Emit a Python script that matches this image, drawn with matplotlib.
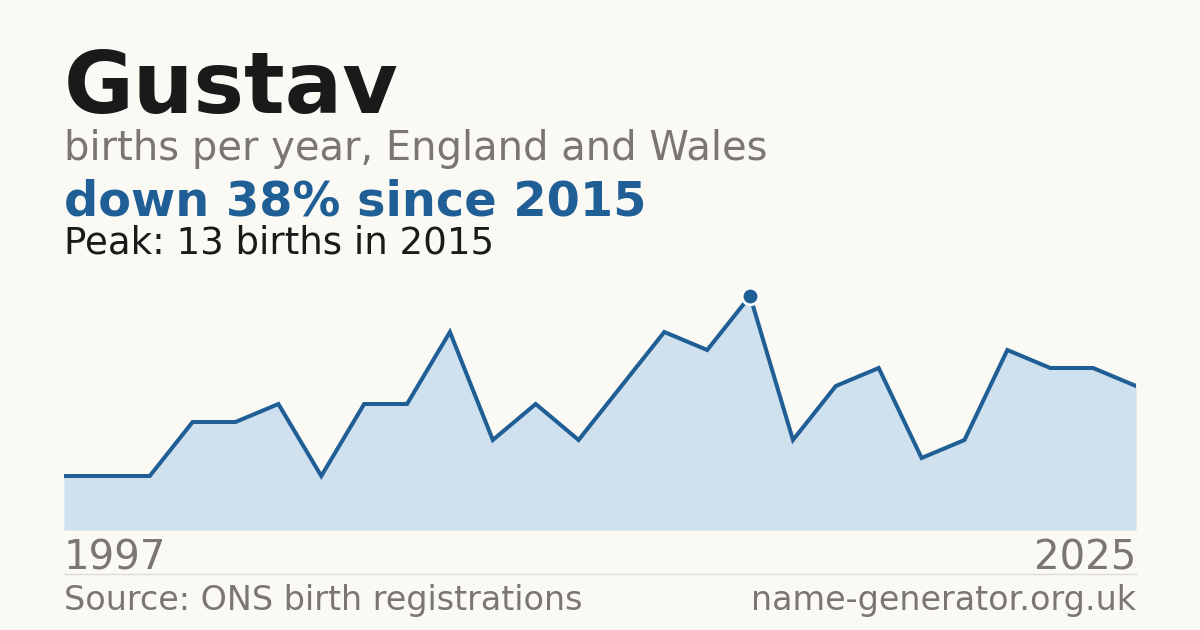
import numpy as np
import matplotlib
matplotlib.use('Agg')
import matplotlib.pyplot as plt

plt.rcParams['font.family'] = ['DejaVu Sans']

# births per year (years with data only, plotted in order)
years = [1997, 1998, 1999, 2000, 2001, 2002, 2003, 2004, 2005, 2006,
         2007, 2009, 2010, 2011, 2012, 2014, 2015, 2016, 2017, 2018,
         2019, 2020, 2021, 2023, 2024, 2025]
births = [3, 3, 3, 6, 6, 7, 3, 7, 7, 11,
          5, 7, 5, 8, 11, 10, 13, 5, 8, 9,
          4, 5, 10, 9, 9, 8]

peak_i = int(np.argmax(births))

bg = '#faf9f4'
blue = '#1f5f96'
fill = '#cfe0ef'
grey = '#7a7670'
dark = '#1a1a1a'

W, H = 1200, 630
fig = plt.figure(figsize=(12, 6.3), dpi=100, facecolor=bg)

def fy(px):
    return 1 - px / H

ax = fig.add_axes([64 / W, fy(530), (1136 - 64) / W, (530 - 278) / H])
ax.set_facecolor(bg)
x = np.arange(len(births))
ax.fill_between(x, births, 0, color=fill, linewidth=0)
ax.plot(x, births, color=blue, linewidth=2.9, solid_joinstyle='miter')
ax.plot(x[peak_i], births[peak_i], 'o', color=blue, markersize=12,
        markeredgecolor='white', markeredgewidth=2, clip_on=False, zorder=5)
ax.set_xlim(0, len(births) - 1)
ax.set_ylim(0, 14)
ax.axis('off')

# header
fig.text(64 / W, fy(113), 'Gustav', fontsize=61.3, fontweight='bold',
         color=dark, va='baseline')
fig.text(64 / W, fy(160), 'births per year, England and Wales', fontsize=28.8,
         color=grey, va='baseline')
drop = round((births[peak_i] - births[-1]) / births[peak_i] * 100)
fig.text(64 / W, fy(215), f'down {drop}% since {years[peak_i]}', fontsize=34.5,
         fontweight='bold', color=blue, va='baseline')
fig.text(64 / W, fy(254), f'Peak: {births[peak_i]} births in {years[peak_i]}',
         fontsize=26.7, color=dark, va='baseline')

# footer
fig.text(64 / W, fy(570), str(years[0]), fontsize=29, color=grey, va='baseline')
fig.text(1136 / W, fy(570), str(years[-1]), fontsize=29, color=grey,
         va='baseline', ha='right')
fig.add_artist(plt.Line2D([64 / W, 1136 / W], [fy(574), fy(574)],
                          color='#dedbd5', linewidth=1))
fig.text(64 / W, fy(610), 'Source: ONS birth registrations', fontsize=24,
         color=grey, va='baseline')
fig.text(1136 / W, fy(610), 'name-generator.org.uk', fontsize=24, color=grey,
         va='baseline', ha='right')

fig.savefig('out.png', dpi=100, facecolor=bg)
